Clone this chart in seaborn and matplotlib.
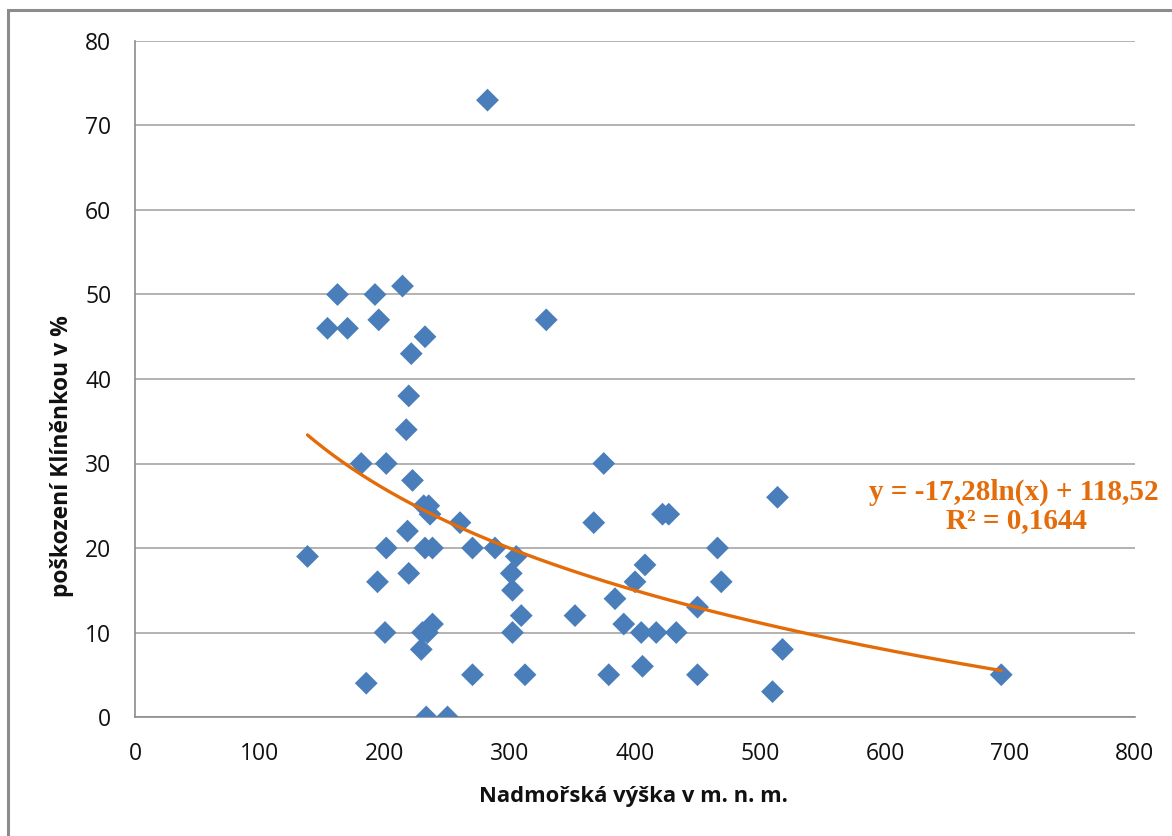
import numpy as np
import pandas as pd
import matplotlib
matplotlib.use("Agg")
import matplotlib.pyplot as plt
import seaborn as sns
from matplotlib.patches import Rectangle

# ---- data ----
altitude = [138, 154, 162, 170, 181, 185, 192, 194, 195, 200, 201, 201,
            214, 217, 218, 219, 219, 221, 222, 229, 230, 231, 232, 232,
            233, 234, 235, 236, 238, 238, 250, 260, 270, 270, 282, 288,
            301, 302, 302, 305, 309, 312, 329, 352, 367, 375, 379, 384,
            391, 400, 405, 406, 408, 417, 422, 427, 433, 450, 450, 466,
            469, 510, 514, 518, 693]
damage = [19, 46, 50, 46, 30, 4, 50, 16, 47, 10, 20, 30,
          51, 34, 22, 17, 38, 43, 28, 8, 10, 25, 20, 45,
          0, 10, 25, 24, 20, 11, 0, 23, 5, 20, 73, 20,
          17, 15, 10, 19, 12, 5, 47, 12, 23, 30, 5, 14,
          11, 16, 10, 6, 18, 10, 24, 24, 10, 13, 5, 20,
          16, 3, 26, 8, 5]
trend_coef = [-17.28, 118.52]   # y = a*ln(x) + b
r_squared = 0.1644
x_ticks = [0, 100, 200, 300, 400, 500, 600, 700, 800]
y_ticks = [0, 10, 20, 30, 40, 50, 60, 70, 80]
x_label = "Nadmořská výška v m. n. m."
y_label = "poškození Klíněnkou v %"

df = pd.DataFrame({"x": altitude, "y": damage})

sns.set_theme(style="white")
plt.rcParams["font.family"] = ["Open Sans", "DejaVu Sans"]

fig = plt.figure(figsize=(11.72, 8.36), dpi=100)
fig.patches.append(Rectangle((8 / 1172, -0.01), 1.02, 1 - 10 / 836 + 0.01,
                             transform=fig.transFigure, fill=False,
                             edgecolor="#8c8c8c", linewidth=2.2, zorder=0))
ax = fig.add_axes([135 / 1172, 1 - 717 / 836, 1000 / 1172, 676 / 836])

sns.scatterplot(data=df, x="x", y="y", marker="D", s=135, color="#4A7EBB",
                edgecolor="none", ax=ax, zorder=3, legend=False)

xs = np.linspace(min(altitude), max(altitude), 300)
ax.plot(xs, trend_coef[0] * np.log(xs) + trend_coef[1], color="#E36C09",
        linewidth=2.4, zorder=4)

ax.set_xlim(0, 800)
ax.set_ylim(0, 80)
ax.set_xticks(x_ticks)
ax.set_yticks(y_ticks)
ax.tick_params(axis="both", length=0, labelsize=16.5, colors="#111111")
ax.tick_params(axis="x", pad=18)
ax.tick_params(axis="y", pad=17)
ax.grid(axis="y", color="#a6a6a6", linewidth=1.2)
ax.grid(axis="x", visible=False)
for side in ["top", "right"]:
    ax.spines[side].set_visible(False)
for side in ["left", "bottom"]:
    ax.spines[side].set_color("#8c8c8c")
    ax.spines[side].set_linewidth(1.2)

ax.set_xlabel(x_label, fontsize=15.8, fontweight="bold", color="#111111",
              va="center")
ax.set_ylabel(y_label, fontsize=16.5, fontweight="bold", color="#111111",
              va="center")
ax.xaxis.set_label_coords(0.4985, -0.118)
ax.yaxis.set_label_coords(-0.073, 0.386)

eq = f"y = {trend_coef[0]:.2f}ln(x) + {trend_coef[1]:.2f}".replace(".", ",")
r2 = f"R² = {r_squared:.4f}".replace(".", ",")
ax.text(1014 / 1172, 1 - 492 / 836, eq, transform=fig.transFigure,
        ha="center", va="center", color="#E46C0A", fontsize=21,
        fontweight="bold", family=["Liberation Serif", "DejaVu Serif"])
ax.text(1016 / 1172, 1 - 521 / 836, r2, transform=fig.transFigure,
        ha="center", va="center", color="#E46C0A", fontsize=21,
        fontweight="bold", family=["Liberation Serif", "DejaVu Serif"])

fig.savefig("out.png", dpi=100)
